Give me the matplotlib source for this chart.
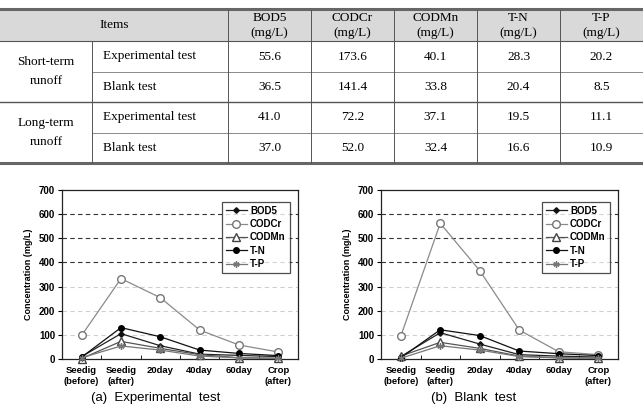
import matplotlib
matplotlib.use("Agg")
import matplotlib.pyplot as plt
from matplotlib.lines import Line2D
from matplotlib.patches import Rectangle

# ---------------- data ----------------
table_cols = ["BOD5\n(mg/L)", "CODCr\n(mg/L)", "CODMn\n(mg/L)", "T-N\n(mg/L)", "T-P\n(mg/L)"]
table_groups = ["Short-term\nrunoff", "Long-term\nrunoff"]
table_tests = ["Experimental test", "Blank test"]
short_exp = ["55.6", "173.6", "40.1", "28.3", "20.2"]
short_blank = ["36.5", "141.4", "33.8", "20.4", "8.5"]
long_exp = ["41.0", "72.2", "37.1", "19.5", "11.1"]
long_blank = ["37.0", "52.0", "32.4", "16.6", "10.9"]

categories = ["Seedig\n(before)", "Seedig\n(after)", "20day", "40day", "60day", "Crop\n(after)"]
series_names = ["BOD5", "CODCr", "CODMn", "T-N", "T-P"]

exp_bod5 = [10, 105, 55, 20, 15, 10]
exp_codcr = [98, 333, 254, 120, 58, 29]
exp_codmn = [2, 73, 44, 18, 5, 3]
exp_tn = [8, 130, 92, 37, 23, 14]
exp_tp = [5, 54, 37, 12, 5, 3]

blank_bod5 = [10, 109, 62, 18, 12, 8]
blank_codcr = [94, 562, 366, 120, 30, 18]
blank_codmn = [12, 69, 44, 12, 5, 3]
blank_tn = [5, 121, 97, 33, 22, 14]
blank_tp = [3, 55, 37, 10, 5, 3]

W, H = 643, 412
fig = plt.figure(figsize=(W / 100, H / 100), dpi=100)

def fx(x):
    return x / W

def fy(y):
    return 1 - y / H

# ---------------- table ----------------
serif = ["Liberation Serif", "DejaVu Serif"]
fs_tab = 9.5
fig.patches.append(Rectangle((fx(0), fy(41)), 1, fy(9) - fy(41), transform=fig.transFigure,
                             facecolor="#d9d9d9", edgecolor="none", zorder=0))

def hline(y, x0, x1, lw=0.7, color="#555555"):
    fig.add_artist(Line2D([fx(x0), fx(x1)], [fy(y), fy(y)], transform=fig.transFigure,
                          color=color, lw=lw))

def vline(x, y0, y1, lw=0.7, color="#555555"):
    fig.add_artist(Line2D([fx(x), fx(x)], [fy(y0), fy(y1)], transform=fig.transFigure,
                          color=color, lw=lw))

hline(9, 0, W, lw=2.2, color="#666666")
hline(163, 0, W, lw=2.2, color="#666666")
hline(41, 0, W, lw=0.8)
hline(72, 92, W, lw=0.6, color="#777777")
hline(102, 0, W, lw=1.0, color="#555555")
hline(133, 92, W, lw=0.6, color="#777777")
col_edges = [228, 311, 394, 477, 560, 643]
vline(92, 41, 163)
for x in col_edges[:-1]:
    vline(x, 10, 163)

fig.text(fx(114), fy(25.5), "Items", ha="center", va="center", fontsize=fs_tab, family=serif)
for i, c in enumerate(table_cols):
    xc = (col_edges[i] + col_edges[i + 1]) / 2
    fig.text(fx(xc), fy(25.5), c, ha="center", va="center", fontsize=fs_tab, family=serif,
             linespacing=1.35)

row_centers = [56.5, 87, 117.5, 148]
rows = [short_exp, short_blank, long_exp, long_blank]
for g, grp in enumerate(table_groups):
    yc = (row_centers[2 * g] + row_centers[2 * g + 1]) / 2
    fig.text(fx(46), fy(yc), grp, ha="center", va="center", fontsize=fs_tab, family=serif,
             linespacing=1.75)
for r, vals in enumerate(rows):
    fig.text(fx(103), fy(row_centers[r]), table_tests[r % 2], ha="left", va="center",
             fontsize=fs_tab, family=serif)
    for i, v in enumerate(vals):
        xc = (col_edges[i] + col_edges[i + 1]) / 2
        fig.text(fx(xc), fy(row_centers[r]), v, ha="center", va="center", fontsize=fs_tab,
                 family=serif)

# ---------------- charts ----------------
sans = ["Liberation Sans", "DejaVu Sans"]
styles = {
    "BOD5": dict(color="#222222", marker="D", ms=2.8, mfc="#111111", mec="#111111"),
    "CODCr": dict(color="#8a8a8a", marker="o", ms=5.5, mfc="white", mec="#777777"),
    "CODMn": dict(color="#555555", marker="^", ms=5.5, mfc="white", mec="#444444"),
    "T-N": dict(color="#111111", marker="o", ms=4, mfc="#000000", mec="#000000"),
    "T-P": dict(color="#777777", marker=(6, 2, 0), ms=4.5, mfc="#777777", mec="#777777"),
}

def draw_chart(ax_px, data, subtitle, sub_x):
    x0, x1 = ax_px
    ax = fig.add_axes([fx(x0), fy(359), fx(x1) - fx(x0), fy(190) - fy(359)])
    xs = list(range(len(categories)))
    for name, vals in zip(series_names, data):
        st = styles[name]
        ax.plot(xs, vals, lw=0.9, label=name, clip_on=False, zorder=3, **st)
    ax.set_xlim(-0.5, len(categories) - 0.5)
    ax.set_ylim(0, 700)
    ax.set_yticks(range(0, 701, 100))
    ax.set_yticklabels([str(v) for v in range(0, 701, 100)], fontsize=7, fontweight="bold",
                       family=sans)
    for v in (100, 200, 300):
        ax.axhline(v, color="#cfcfcf", lw=0.8, ls=(0, (4, 3)), zorder=1)
    for v in (400, 500, 600):
        ax.axhline(v, color="#333333", lw=0.8, ls=(0, (4, 3)), zorder=1)
    ax.set_xticks(xs)
    ax.set_xticklabels(categories, fontsize=6.8, fontweight="bold", family=sans,
                       linespacing=1.35)
    ax.tick_params(axis="x", which="major", length=0, pad=5)
    ax.set_xticks([x - 0.5 for x in range(len(categories) + 1)], minor=True)
    ax.tick_params(axis="x", which="minor", direction="in", length=3)
    ax.tick_params(axis="y", direction="out", length=3, pad=2)
    for s in ax.spines.values():
        s.set_color("#222222")
        s.set_linewidth(0.9)
    ax.set_ylabel("Concentration (mg/L)", fontsize=6.5, fontweight="bold", family=sans,
                  labelpad=4)
    leg = ax.legend(loc="upper right", bbox_to_anchor=(0.985, 0.96),
                    prop=dict(family=sans, weight="bold", size=7), frameon=True,
                    fancybox=False, edgecolor="#222222", handlelength=2.2,
                    handletextpad=0.3, borderpad=0.4, labelspacing=0.35)
    leg.get_frame().set_linewidth(0.9)
    fig.text(fx(sub_x), fy(398), subtitle, ha="center", va="center", fontsize=9.5,
             family=sans)
    return ax

draw_chart((62, 298), [exp_bod5, exp_codcr, exp_codmn, exp_tn, exp_tp],
           "(a)  Experimental  test", 156)
draw_chart((381, 618), [blank_bod5, blank_codcr, blank_codmn, blank_tn, blank_tp],
           "(b)  Blank  test", 474)

fig.savefig("out.png", dpi=100)
